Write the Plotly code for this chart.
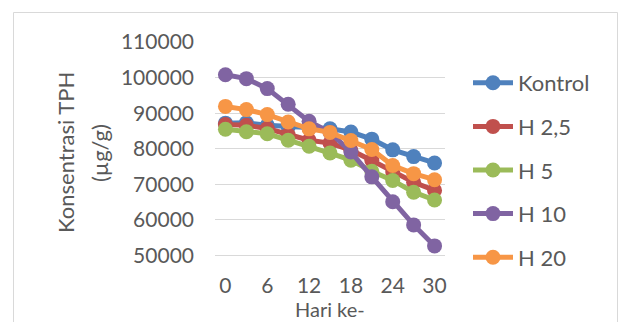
import plotly.graph_objects as go

# Sampling days (every 3 days) and TPH concentration per treatment (µg/g)
hari = [0, 3, 6, 9, 12, 15, 18, 21, 24, 27, 30]
kontrol = [87200, 87300, 86600, 86200, 85800, 85600, 84700, 82700, 79700, 77800, 76000]
h_2_5 = [86800, 86600, 85700, 83900, 82400, 81600, 79600, 76700, 73500, 70600, 68300]
h_5 = [85500, 84800, 84200, 82400, 80700, 78800, 76800, 73700, 71100, 67800, 65600]
h_10 = [100800, 99700, 96900, 92500, 87700, 84600, 79100, 72100, 65100, 58600, 52700]
h_20 = [91900, 91000, 89600, 87500, 85600, 84600, 82300, 79800, 75300, 73000, 71300]

series_names = ["Kontrol", "H 2,5", "H 5", "H 10", "H 20"]
series_values = [kontrol, h_2_5, h_5, h_10, h_20]
colors = ["#4F81BD", "#C0504D", "#9BBB59", "#8064A2", "#F79646"]

x_ticks = [0, 6, 12, 18, 24, 30]
y_ticks = [50000, 60000, 70000, 80000, 90000, 100000, 110000]
y_tick_labels = [str(v) for v in y_ticks]

FONT = "Lato"
TEXT = "#595959"
FS = 22
TICK_FS = 21

fig = go.Figure()
for name, vals, col in zip(series_names, series_values, colors):
    fig.add_trace(go.Scatter(
        x=hari, y=vals, name=name, mode="lines+markers",
        line=dict(color=col, width=5),
        marker=dict(color=col, size=15),
        legendgroup=name,
    ))

W, H = 622, 322
L, R, T, B = 215, 177, 42, 51
pw = W - L - R
ph = H - T - B


def px_x(p):
    return (p - L) / pw


def px_y(p):
    return (H - B - p) / ph


fig.update_layout(
    width=W, height=H,
    margin=dict(l=L, r=R, t=T, b=B, pad=0),
    paper_bgcolor="white", plot_bgcolor="white",
    font=dict(family=FONT, size=FS, color=TEXT),
    showlegend=True,
    legend=dict(
        x=px_x(468), y=px_y(62), xanchor="left", yanchor="top",
        font=dict(family=FONT, size=FS, color=TEXT),
        tracegroupgap=12, itemwidth=40, bgcolor="rgba(0,0,0,0)",
    ),
    xaxis=dict(
        range=[-1.5, 31.5], tickvals=x_ticks, showgrid=False,
        zeroline=False, showline=False, ticks="",
        tickfont=dict(family=FONT, size=TICK_FS, color=TEXT),
    ),
    yaxis=dict(
        range=[45650, 110000], tickvals=y_ticks, ticktext=y_tick_labels,
        showgrid=True, gridcolor="#D9D9D9", gridwidth=1,
        zeroline=False, showline=False, ticks="", ticklabelstandoff=20,
        tickfont=dict(family=FONT, size=TICK_FS, color=TEXT),
    ),
    annotations=[
        dict(text="Konsentrasi TPH", textangle=-90,
             xref="paper", yref="paper", x=px_x(65), y=px_y(153),
             xanchor="center", yanchor="middle", showarrow=False,
             font=dict(family=FONT, size=FS, color=TEXT)),
        dict(text="(µg/g)", textangle=-90,
             xref="paper", yref="paper", x=px_x(99), y=px_y(153),
             xanchor="center", yanchor="middle", showarrow=False,
             font=dict(family=FONT, size=FS, color=TEXT)),
        dict(text="Hari ke-", xref="paper", yref="paper",
             x=px_x(330), y=px_y(309), xanchor="center", yanchor="middle",
             showarrow=False, font=dict(family=FONT, size=20, color=TEXT)),
    ],
    shapes=[
        dict(type="rect", xref="paper", yref="paper",
             x0=px_x(13.5), x1=px_x(617.5), y0=px_y(340), y1=px_y(12.5),
             line=dict(color="#D9D9D9", width=1), layer="below"),
    ],
)

fig.write_html("out.html")
